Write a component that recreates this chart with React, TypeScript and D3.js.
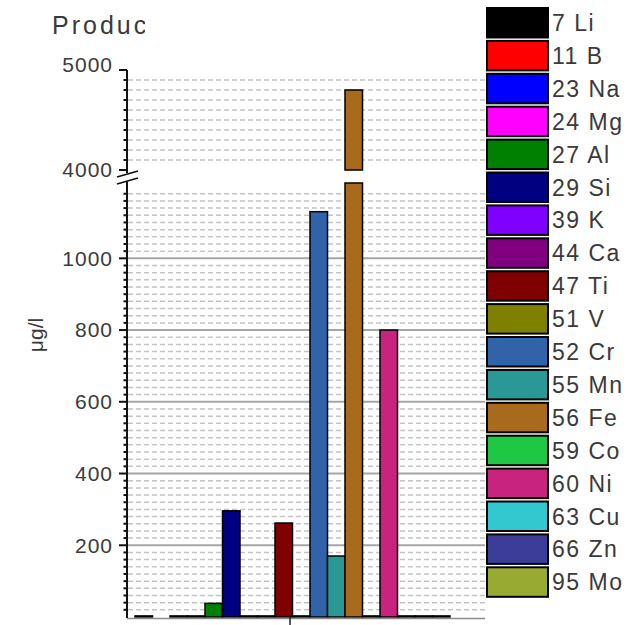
import React from "react";
import * as d3 from "d3";

// Element labels (mass number + symbol), in plotting order
const elements = [
  "7 Li", "11 B", "23 Na", "24 Mg", "27 Al", "29 Si", "39 K", "44 Ca", "47 Ti",
  "51 V", "52 Cr", "55 Mn", "56 Fe", "59 Co", "60 Ni", "63 Cu", "66 Zn", "95 Mo",
];

// Concentration in µg/l (null = not measured)
const concentrations: (number | null)[] = [
  3, null, 3, 3, 38, 296, 3, 3, 262, 3, 1130, 170, 4800, 3, 800, 3, 3, 3,
];

const fills = [
  "#000000", "#ff0000", "#0000ff", "#ff00ff", "#008000", "#000080", "#8000ff",
  "#800080", "#800000", "#808000", "#3063a8", "#2a9995", "#a86b1e", "#1ec845",
  "#c8237e", "#33c7d0", "#3c3d99", "#99aa33",
];

const lowerTicks = [200, 400, 600, 800, 1000];
const upperTicks = [4000, 5000];

const W = 632;
const H = 625;
const axisX = 127;
const plotRight = 485;
const lowMax = 1210;
const highMin = 4000;
const highMax = 5000;

const yLow = d3.scaleLinear().domain([0, lowMax]).range([617, 183]);
const yHigh = d3.scaleLinear().domain([highMin, highMax]).range([170, 70]);
const x = d3.scaleBand<string>().domain(elements).range([135, 450]).padding(0);

const lowerMinor = d3.range(20, lowMax, 20).filter((v) => v % 200 !== 0);
const upperMinor = d3.range(4100, highMax, 100);

const font = "'Liberation Sans', Arial, sans-serif";
const textColor = "#3a3a3a";

export default function App() {
  const legendPitch = 32.9;
  return (
    <svg
      width={W}
      height={H}
      style={{ position: "fixed", left: 0, top: 0, background: "#fff" }}
      fontFamily={font}
    >
      <defs>
        <clipPath id="titleClip">
          <rect x={0} y={0} width={145} height={60} />
        </clipPath>
      </defs>

      {/* minor grid */}
      {[...lowerMinor.map((v) => yLow(v)), ...upperMinor.map((v) => yHigh(v))].map((y, i) => (
        <line
          key={"mg" + i}
          x1={axisX + 1}
          x2={plotRight}
          y1={y}
          y2={y}
          stroke="#c4c4c4"
          strokeWidth={1.5}
          strokeDasharray="5,3"
        />
      ))}

      {/* major grid */}
      {lowerTicks.map((v) => (
        <line
          key={"MG" + v}
          x1={axisX}
          x2={plotRight}
          y1={yLow(v)}
          y2={yLow(v)}
          stroke="#a6a6a6"
          strokeWidth={2}
        />
      ))}

      {/* bars */}
      {elements.map((el, i) => {
        const v = concentrations[i];
        if (v == null) return null;
        const bx = x(el)!;
        const bw = x.bandwidth();
        if (v <= lowMax) {
          return (
            <rect
              key={el}
              x={bx}
              y={yLow(v)}
              width={bw}
              height={yLow(0) - yLow(v)}
              fill={fills[i]}
              stroke="#000"
              strokeWidth={1.5}
            />
          );
        }
        return (
          <g key={el}>
            <rect
              x={bx}
              y={yLow(lowMax)}
              width={bw}
              height={yLow(0) - yLow(lowMax)}
              fill={fills[i]}
              stroke="#000"
              strokeWidth={1.5}
            />
            <rect
              x={bx}
              y={yHigh(v)}
              width={bw}
              height={yHigh(highMin) - yHigh(v)}
              fill={fills[i]}
              stroke="#000"
              strokeWidth={1.5}
            />
          </g>
        );
      })}

      {/* x axis */}
      <line x1={axisX} x2={plotRight} y1={618.5} y2={618.5} stroke="#8c8c8c" strokeWidth={1.5} />
      <line x1={290} x2={290} y1={617} y2={628} stroke="#222" strokeWidth={1.5} />

      {/* y axis (broken) */}
      <line x1={axisX} x2={axisX} y1={yHigh(highMax)} y2={173} stroke="#111" strokeWidth={2} />
      <line x1={axisX} x2={axisX} y1={181} y2={yLow(0) + 1} stroke="#111" strokeWidth={2} />
      <line x1={117} x2={138} y1={177} y2={171} stroke="#111" strokeWidth={1.8} />
      <line x1={117} x2={138} y1={184} y2={178} stroke="#111" strokeWidth={1.8} />

      {/* ticks */}
      {[...lowerMinor.map((v) => yLow(v)), ...upperMinor.map((v) => yHigh(v))].map((y, i) => (
        <line key={"mt" + i} x1={axisX - 3.5} x2={axisX} y1={y} y2={y} stroke="#111" strokeWidth={2} />
      ))}
      {[...lowerTicks.map((v) => yLow(v)), ...upperTicks.map((v) => yHigh(v))].map((y, i) => (
        <line key={"Mt" + i} x1={axisX - 8} x2={axisX} y1={y} y2={y} stroke="#111" strokeWidth={2} />
      ))}

      {/* tick labels */}
      {lowerTicks.map((v) => (
        <text
          key={"tl" + v}
          x={113}
          y={yLow(v)}
          dy="0.35em"
          textAnchor="end"
          fontSize={21}
          letterSpacing={1}
          fill={textColor}
        >
          {v}
        </text>
      ))}
      {upperTicks.map((v) => (
        <text
          key={"tu" + v}
          x={113}
          y={v === highMax ? yHigh(v) - 5 : yHigh(v)}
          dy="0.35em"
          textAnchor="end"
          fontSize={21}
          letterSpacing={1}
          fill={textColor}
        >
          {v}
        </text>
      ))}

      {/* axis title */}
      <text
        transform="translate(43,335) rotate(-90)"
        textAnchor="middle"
        fontSize={21}
        fill={textColor}
      >
        μg/l
      </text>

      {/* chart title */}
      <text x={52} y={34} fontSize={25} letterSpacing={3} fill={textColor} clipPath="url(#titleClip)">
        Product
      </text>

      {/* legend */}
      <rect x={plotRight} y={0} width={W - plotRight} height={H} fill="#fff" />
      {elements.map((el, i) => {
        const y0 = 8 + legendPitch * i;
        return (
          <g key={"lg" + el}>
            <rect x={487} y={y0} width={61} height={29.5} fill={fills[i]} stroke="#000" strokeWidth={2} />
            <text x={552} y={y0 + 15} dy="0.35em" fontSize={23} letterSpacing={1.5} fill={textColor}>
              {el}
            </text>
          </g>
        );
      })}
    </svg>
  );
}
